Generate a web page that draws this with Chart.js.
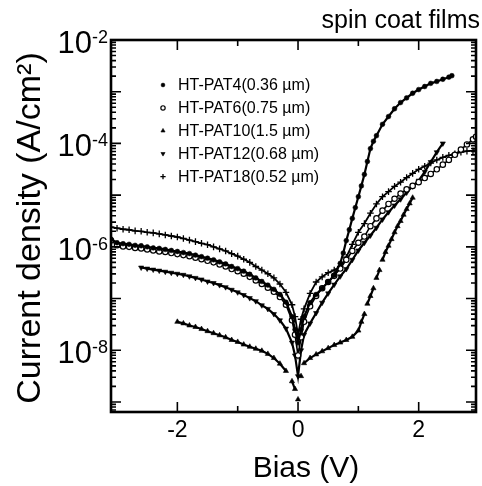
<!DOCTYPE html>
<html>
<head>
<meta charset="utf-8">
<script src="https://cdn.jsdelivr.net/npm/chart.js@4.4.1/dist/chart.umd.min.js"></script>
<style>
  html, body { margin: 0; padding: 0; background: #fff; }
  canvas { display: block; }
</style>
</head>
<body>
<canvas id="jv" width="482" height="486"></canvas>
<script>
// Bias sweeps (V)
const biasPat4 = [-3.1,-3.0,-2.9,-2.8,-2.7,-2.6,-2.5,-2.4,-2.3,-2.2,-2.1,-2.0,-1.9,-1.8,-1.7,-1.6,-1.5,-1.4,-1.3,-1.2,-1.1,-1.0,-0.9,-0.8,-0.7,-0.6,-0.5,-0.4,-0.3,-0.2,-0.1,-0.05,0,
  0.05,0.1,0.2,0.3,0.4,0.5,0.6,0.7,0.75,0.8,0.85,0.9,0.95,1.0,1.05,1.1,1.15,1.2,1.25,1.3,1.4,1.5,1.6,1.7,1.8,1.9,2.0,2.1,2.2,2.3,2.4,2.5,2.55];
const biasFull = [-3.1,-3.0,-2.9,-2.8,-2.7,-2.6,-2.5,-2.4,-2.3,-2.2,-2.1,-2.0,-1.9,-1.8,-1.7,-1.6,-1.5,-1.4,-1.3,-1.2,-1.1,-1.0,-0.9,-0.8,-0.7,-0.6,-0.5,-0.4,-0.3,-0.2,-0.1,-0.05,0,
  0.05,0.1,0.2,0.3,0.4,0.5,0.6,0.7,0.8,0.9,1.0,1.1,1.2,1.3,1.4,1.5,1.6,1.7,1.8,1.9,2.0,2.1,2.2,2.3,2.4,2.5,2.6,2.7,2.8,2.9,2.95];
const biasPat10 = [-2.0,-1.9,-1.8,-1.7,-1.6,-1.5,-1.4,-1.3,-1.2,-1.1,-1.0,-0.9,-0.8,-0.7,-0.6,-0.5,-0.4,-0.3,-0.2,-0.1,-0.05,0,
  0.05,0.1,0.2,0.3,0.4,0.5,0.6,0.7,0.8,0.9,1.0,1.05,1.1,1.15,1.2,1.25,1.3,1.35,1.4,1.45,1.5,1.55,1.6,1.65,1.7,1.75,1.8,1.85,1.9];
const biasPat12 = [-2.6,-2.5,-2.4,-2.3,-2.2,-2.1,-2.0,-1.9,-1.8,-1.7,-1.6,-1.5,-1.4,-1.3,-1.2,-1.1,-1.0,-0.9,-0.8,-0.7,-0.6,-0.5,-0.4,-0.3,-0.2,-0.1,-0.05,0,
  0.05,0.1,0.2,0.3,0.4,0.5,0.6,0.7,0.8,0.9,1.0,1.1,1.2,1.3,1.4,1.5,1.6,1.7,1.8,1.9,2.0,2.1,2.2,2.3,2.4];

// Current density (A/cm2)
const jPat4 = [1.41e-6,1.2e-6,1.15e-6,1.12e-6,1.07e-6,1.05e-6,1.0e-6,9.55e-7,9.33e-7,8.91e-7,8.51e-7,8.13e-7,7.76e-7,7.41e-7,6.92e-7,6.46e-7,6.03e-7,5.62e-7,5.13e-7,4.68e-7,4.17e-7,3.8e-7,3.39e-7,2.95e-7,2.51e-7,2.14e-7,1.82e-7,1.51e-7,1.2e-7,8.51e-8,4.47e-8,2.51e-8,1.41e-8,
  2.51e-8,4.47e-8,8.32e-8,1.2e-7,1.58e-7,2.09e-7,2.82e-7,4.79e-7,7.59e-7,1.32e-6,2.14e-6,3.55e-6,5.75e-6,9.33e-6,1.51e-5,2.51e-5,4.47e-5,7.94e-5,1.1e-4,1.41e-4,2.34e-4,3.31e-4,4.68e-4,6.17e-4,7.59e-4,9.33e-4,1.1e-3,1.26e-3,1.45e-3,1.58e-3,1.74e-3,1.91e-3,2.04e-3];
const jPat6 = [1.32e-6,1.07e-6,1.02e-6,1.0e-6,9.55e-7,9.33e-7,8.91e-7,8.51e-7,8.13e-7,7.94e-7,7.59e-7,7.24e-7,6.92e-7,6.61e-7,6.17e-7,5.75e-7,5.37e-7,5.01e-7,4.57e-7,4.17e-7,3.72e-7,3.39e-7,3.02e-7,2.63e-7,2.24e-7,1.91e-7,1.62e-7,1.35e-7,1.07e-7,7.59e-8,3.8e-8,2.0e-8,7.94e-9,
  1.78e-8,3.55e-8,7.08e-8,1.12e-7,1.58e-7,2.09e-7,2.75e-7,3.8e-7,5.62e-7,8.32e-7,1.2e-6,1.58e-6,2.51e-6,3.55e-6,5.01e-6,6.76e-6,8.51e-6,1.07e-5,1.29e-5,1.51e-5,1.78e-5,2.14e-5,2.57e-5,3.16e-5,3.89e-5,4.79e-5,6.03e-5,7.59e-5,9.55e-5,1.2e-4,1.35e-4];
const jPat10 = [3.55e-8,3.31e-8,3.02e-8,2.82e-8,2.57e-8,2.34e-8,2.14e-8,1.95e-8,1.78e-8,1.58e-8,1.45e-8,1.29e-8,1.17e-8,1.07e-8,9.77e-9,8.51e-9,7.08e-9,5.5e-9,3.98e-9,2.51e-9,1.78e-9,1.12e-9,
  3.16e-9,5.62e-9,7.08e-9,8.32e-9,9.55e-9,1.1e-8,1.26e-8,1.41e-8,1.58e-8,1.82e-8,2.4e-8,3.55e-8,5.01e-8,7.94e-8,1.12e-7,1.58e-7,2.51e-7,3.55e-7,5.62e-7,7.94e-7,1.05e-6,1.41e-6,1.91e-6,2.51e-6,3.16e-6,4.17e-6,5.37e-6,6.92e-6,8.91e-6];
const jPat12 = [3.98e-7,3.8e-7,3.63e-7,3.47e-7,3.31e-7,3.16e-7,3.02e-7,2.88e-7,2.69e-7,2.51e-7,2.34e-7,2.14e-7,2.0e-7,1.82e-7,1.66e-7,1.48e-7,1.32e-7,1.17e-7,1.02e-7,8.91e-8,7.41e-8,6.31e-8,5.01e-8,3.8e-8,2.63e-8,1.41e-8,7.94e-9,3.16e-9,
  1.0e-8,2.0e-8,3.31e-8,5.25e-8,8.32e-8,1.26e-7,1.86e-7,2.69e-7,3.72e-7,5.62e-7,8.51e-7,1.2e-6,1.66e-6,2.34e-6,3.39e-6,4.68e-6,6.31e-6,8.32e-6,1.12e-5,1.48e-5,1.91e-5,2.82e-5,4.37e-5,6.76e-5,1.0e-4];
const jPat18 = [2.4e-6,2.29e-6,2.19e-6,2.14e-6,2.04e-6,2.0e-6,1.91e-6,1.86e-6,1.78e-6,1.7e-6,1.62e-6,1.55e-6,1.45e-6,1.35e-6,1.26e-6,1.17e-6,1.1e-6,1.0e-6,9.12e-7,8.32e-7,7.41e-7,6.61e-7,5.75e-7,5.01e-7,4.17e-7,3.55e-7,3.02e-7,2.51e-7,1.91e-7,1.32e-7,7.59e-8,4.47e-8,2.0e-8,
  3.98e-8,6.31e-8,1.26e-7,2.09e-7,2.63e-7,3.16e-7,3.55e-7,4.17e-7,6.31e-7,1.12e-6,1.91e-6,2.82e-6,4.47e-6,6.76e-6,9.33e-6,1.17e-5,1.48e-5,1.78e-5,2.19e-5,2.63e-5,3.16e-5,3.63e-5,4.17e-5,4.79e-5,5.37e-5,5.89e-5,6.31e-5,6.76e-5,7.08e-5,7.24e-5,7.41e-5];

const seriesLabels = ['HT-PAT4(0.36 µm)', 'HT-PAT6(0.75 µm)', 'HT-PAT10(1.5 µm)', 'HT-PAT12(0.68 µm)', 'HT-PAT18(0.52 µm)'];

// Axis ticks
const xMajorTicks = [-2, 0, 2];
const xMinorTicks = [-1, 1];
const xTickLabels = ['-2', '0', '2'];
const yLabelExponents = [-2, -4, -6, -8];
const yDecades = [-2, -3, -4, -5, -6, -7, -8, -9];

const xTitle = 'Bias (V)';
const yTitle = 'Current density (A/cm²)';
const cornerNote = 'spin coat films';

const FONT = '"Liberation Sans", Arial, Helvetica, sans-serif';

function pts(xs, ys) { return xs.map((v, i) => ({ x: v, y: ys[i] })); }

const base = { showLine: true, borderColor: '#000', borderWidth: 2.2, pointBorderColor: '#000', pointHoverRadius: 0 };

const datasets = [
  Object.assign({}, base, { label: seriesLabels[0], data: pts(biasPat4, jPat4), pointStyle: 'circle', pointRadius: 2.4, pointBackgroundColor: '#000', pointBorderWidth: 0.5 }),
  Object.assign({}, base, { label: seriesLabels[1], data: pts(biasFull, jPat6), pointStyle: 'circle', pointRadius: 2.7, pointBackgroundColor: '#fff', pointBorderWidth: 1.2, borderWidth: 1.6 }),
  Object.assign({}, base, { label: seriesLabels[2], data: pts(biasPat10, jPat10), pointStyle: 'triangle', pointRadius: 3, pointBackgroundColor: '#000', pointBorderWidth: 0.6,
    segment: { borderColor: c => Math.abs(c.p1.y - c.p0.y) > 9 ? 'rgba(0,0,0,0)' : '#000' } }),
  Object.assign({}, base, { label: seriesLabels[3], data: pts(biasPat12, jPat12), pointStyle: 'triangle', pointRotation: 180, pointRadius: 3, pointBackgroundColor: '#000', pointBorderWidth: 0.6 }),
  Object.assign({}, base, { label: seriesLabels[4], data: pts(biasFull, jPat18), pointStyle: 'cross', pointRadius: 3.3, pointBackgroundColor: '#000', pointBorderWidth: 1.3, borderWidth: 1.8 })
];

// Frame, inward ticks, labels, titles and legend
const decorations = {
  id: 'decorations',
  afterDatasetsDraw(chart) {
    const { ctx, chartArea: a, scales: { x, y } } = chart;
    ctx.save();
    ctx.strokeStyle = '#000';
    ctx.fillStyle = '#000';

    // ticks
    ctx.lineWidth = 1.6;
    ctx.beginPath();
    const xTick = (v, len) => {
      const px = x.getPixelForValue(v);
      ctx.moveTo(px, a.bottom); ctx.lineTo(px, a.bottom - len);
      ctx.moveTo(px, a.top); ctx.lineTo(px, a.top + len);
    };
    xMajorTicks.forEach(v => xTick(v, 10));
    xMinorTicks.forEach(v => xTick(v, 6));
    const yTick = (v, len) => {
      const py = y.getPixelForValue(v);
      if (py < a.top - 0.5 || py > a.bottom + 0.5) return;
      ctx.moveTo(a.left, py); ctx.lineTo(a.left + len, py);
      ctx.moveTo(a.right, py); ctx.lineTo(a.right - len, py);
    };
    yDecades.forEach(e => {
      yTick(Math.pow(10, e), 10);
      for (let m = 2; m <= 9; m++) yTick(m * Math.pow(10, e - 1), 5);
    });
    ctx.stroke();

    // frame
    ctx.lineWidth = 2.6;
    ctx.strokeRect(a.left, a.top, a.right - a.left, a.bottom - a.top);

    // x tick labels
    ctx.font = '23px ' + FONT;
    ctx.textAlign = 'center';
    ctx.textBaseline = 'alphabetic';
    xMajorTicks.forEach((v, i) => ctx.fillText(xTickLabels[i], x.getPixelForValue(v), 437));

    // y tick labels as 10 with superscript exponent
    yLabelExponents.forEach(e => {
      const py = y.getPixelForValue(Math.pow(10, e));
      const sup = String(e);
      ctx.font = '18px ' + FONT;
      const supW = ctx.measureText(sup).width;
      ctx.textAlign = 'left';
      ctx.fillText(sup, 108 - supW, py + 3);
      ctx.font = '31px ' + FONT;
      ctx.textAlign = 'right';
      ctx.fillText('10', 108 - supW, py + 13);
    });

    // axis titles
    ctx.font = '30px ' + FONT;
    ctx.textAlign = 'center';
    ctx.fillText(xTitle, 306, 477);
    ctx.save();
    ctx.translate(40, (a.top + a.bottom) / 2 + 2);
    ctx.rotate(-Math.PI / 2);
    ctx.font = '34px ' + FONT;
    ctx.fillText(yTitle, 0, 0);
    ctx.restore();

    // corner note
    ctx.font = '25px ' + FONT;
    ctx.textAlign = 'right';
    ctx.fillText(cornerNote, 480, 28);

    // legend
    ctx.font = '16px ' + FONT;
    ctx.textAlign = 'left';
    ctx.textBaseline = 'middle';
    chart.data.datasets.forEach((ds, i) => {
      const ry = 85 + i * 22.9;
      ctx.fillStyle = ds.pointBackgroundColor;
      ctx.strokeStyle = '#000';
      ctx.lineWidth = ds.pointBorderWidth;
      Chart.helpers.drawPoint(ctx, {
        pointStyle: ds.pointStyle,
        rotation: ds.pointRotation || 0,
        radius: ds.pointRadius * 0.8,
        borderWidth: ds.pointBorderWidth
      }, 163, ry);
      ctx.fillStyle = '#000';
      ctx.fillText(ds.label, 178, ry + 1);
    });
    ctx.restore();
  }
};

new Chart(document.getElementById('jv'), {
  type: 'scatter',
  data: { datasets },
  options: {
    responsive: false,
    animation: false,
    devicePixelRatio: 1,
    layout: { padding: { left: 111, top: 40, right: 6, bottom: 74 } },
    scales: {
      x: { type: 'linear', display: false, min: -3.1, max: 2.95 },
      y: { type: 'logarithmic', display: false, min: 6.4e-10, max: 1e-2 }
    },
    plugins: { legend: { display: false }, tooltip: { enabled: false } }
  },
  plugins: [decorations]
});
</script>
</body>
</html>
